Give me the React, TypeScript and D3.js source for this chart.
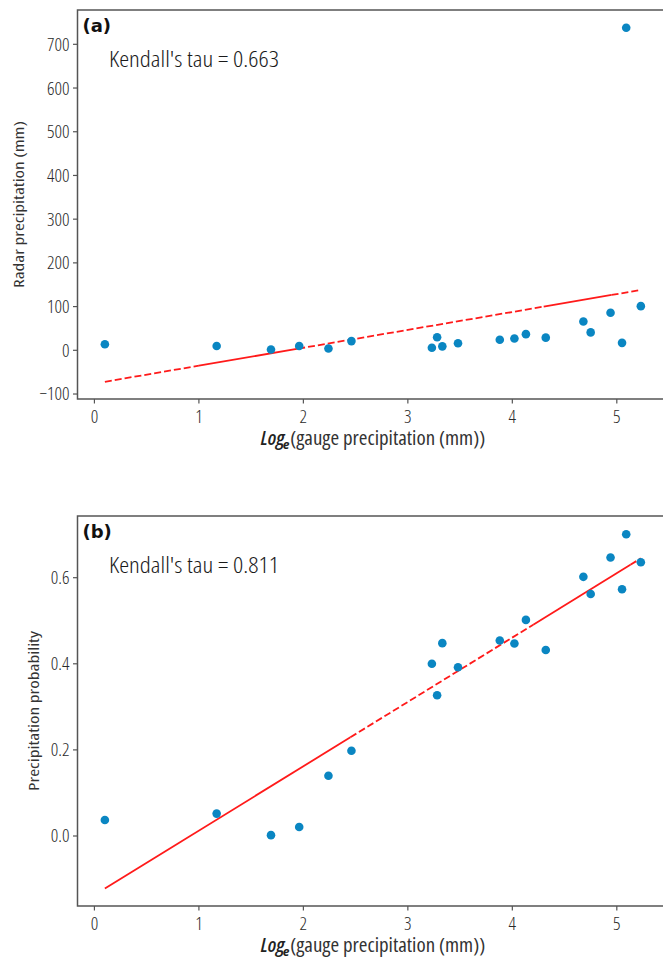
import React, { useEffect, useRef } from "react";
import * as d3 from "d3";

// log_e of gauge precipitation, same stations in both panels
const logGauge = [0.1, 1.17, 1.69, 1.96, 2.24, 2.46, 3.23, 3.28, 3.33, 3.48, 3.88, 4.02, 4.13, 4.32, 4.68, 4.75, 4.94, 5.05, 5.09, 5.23];
const radarPrecip = [14, 10, 2, 10, 4, 21, 6, 30, 9, 16, 24, 27, 37, 29, 66, 41, 86, 17, 738, 101];
const precipProb = [0.037, 0.052, 0.002, 0.021, 0.14, 0.198, 0.4, 0.327, 0.448, 0.392, 0.454, 0.447, 0.502, 0.432, 0.602, 0.562, 0.647, 0.573, 0.701, 0.636];

const xTicks = [0, 1, 2, 3, 4, 5];
const yTicksA = [-100, 0, 100, 200, 300, 400, 500, 600, 700];
const yTicksB = [0.0, 0.2, 0.4, 0.6];

// fitted lines: [intercept, slope]
const fitA = [-76.1, 40.94];
const fitB = [-0.137, 0.1495];
const tauA = "Kendall's tau = 0.663";
const tauB = "Kendall's tau = 0.811";

// the red line is partly solid, partly dashed in the original
const segA = [[0.1, 1.0, true], [1.0, 1.95, false], [1.95, 4.3, true], [4.3, 4.95, false], [4.95, 5.23, true]];
const segB = [[0.1, 2.45, false], [2.45, 4.2, true], [4.2, 5.13, false], [5.13, 5.23, true]];

const W = 663;
const H = 958;
const left = 77.5;
const right = 668; // right spine falls just off the picture
const condensed = "'Open Sans', sans-serif";

export default function App() {
  const ref = useRef(null);

  useEffect(() => {
    const svg = d3.select(ref.current);
    svg.selectAll("*").remove();

    const x = d3.scaleLinear().domain([-0.162, 5.49]).range([left, right]);

    const panel = (opts) => {
      const { top, bottom, yDomain, yTicks, fmt, ys, fit, seg, tag, tau, ylabel } = opts;
      const y = d3.scaleLinear().domain(yDomain).range([bottom, top]);
      const g = svg.append("g");

      // frame
      g.append("rect")
        .attr("x", left)
        .attr("y", top)
        .attr("width", right - left)
        .attr("height", bottom - top)
        .attr("fill", "none")
        .attr("stroke", "#555")
        .attr("stroke-width", 1.5);

      // y ticks
      const yt = g.selectAll(".yt").data(yTicks).enter().append("g").attr("class", "yt");
      yt.append("line")
        .attr("x1", left - 4.5)
        .attr("x2", left)
        .attr("y1", d => y(d))
        .attr("y2", d => y(d))
        .attr("stroke", "#555")
        .attr("stroke-width", 1.2);
      yt.append("text")
        .attr("x", left - 8)
        .attr("y", d => y(d))
        .attr("dy", "0.35em")
        .attr("text-anchor", "end")
        .style("font-family", condensed)
        .style("font-stretch", "75%")
        .style("font-weight", 300)
        .style("font-size", "18.5px")
        .attr("fill", "#2a2a2a")
        .text(d => fmt(d));

      // x ticks
      const xt = g.selectAll(".xt").data(xTicks).enter().append("g").attr("class", "xt");
      xt.append("line")
        .attr("x1", d => x(d))
        .attr("x2", d => x(d))
        .attr("y1", bottom)
        .attr("y2", bottom + 4.5)
        .attr("stroke", "#555")
        .attr("stroke-width", 1.2);
      xt.append("text")
        .attr("x", d => x(d))
        .attr("y", bottom + 17.5)
        .attr("dy", "0.35em")
        .attr("text-anchor", "middle")
        .style("font-family", condensed)
        .style("font-stretch", "75%")
        .style("font-weight", 300)
        .style("font-size", "18.5px")
        .attr("fill", "#2a2a2a")
        .text(d => d);

      // x label: Log_e(...)
      const cx = (left + right) / 2;
      const lx = cx - 112;
      const ly = bottom + 46;
      g.append("text")
        .attr("x", lx)
        .attr("y", ly)
        .style("font-family", condensed)
        .style("font-stretch", "75%")
        .style("font-style", "italic")
        .style("font-weight", 600)
        .style("font-size", "20px")
        .attr("fill", "#222")
        .text("Log");
      g.append("text")
        .attr("x", lx + 22)
        .attr("y", ly + 3.5)
        .style("font-family", condensed)
        .style("font-style", "italic")
        .style("font-weight", "bold")
        .style("font-size", "12px")
        .attr("fill", "#222")
        .text("e");
      g.append("text")
        .attr("x", lx + 29.5)
        .attr("y", ly)
        .style("font-family", condensed)
        .style("font-stretch", "75%")
        .style("font-size", "19px")
        .attr("fill", "#333")
        .attr("textLength", 195)
        .attr("lengthAdjust", "spacingAndGlyphs")
        .text("(gauge precipitation (mm))");

      // y label
      g.append("text")
        .attr("transform", `translate(${ylabel.x},${(top + bottom) / 2}) rotate(-90)`)
        .attr("text-anchor", "middle")
        .attr("dy", "0.35em")
        .style("font-family", condensed)
        .style("font-stretch", "87.5%")
        .style("font-size", "15px")
        .attr("fill", "#333")
        .attr("textLength", ylabel.len)
        .attr("lengthAdjust", "spacingAndGlyphs")
        .text(ylabel.text);

      // panel tag + tau
      g.append("text")
        .attr("x", 82.5)
        .attr("y", top + 22)
        .style("font-family", "'DejaVu Sans', sans-serif")
        .style("font-weight", "bold")
        .style("font-size", "18px")
        .attr("fill", "#111")
        .text(tag);
      g.append("text")
        .attr("x", 109)
        .attr("y", top + 57)
        .style("font-family", condensed)
        .style("font-stretch", "75%")
        .style("font-weight", 300)
        .style("font-size", "21.5px")
        .attr("fill", "#1a1a1a")
        .attr("textLength", 170)
        .attr("lengthAdjust", "spacingAndGlyphs")
        .text(tau);

      // regression line
      const f = v => fit[0] + fit[1] * v;
      g.selectAll(".fit")
        .data(seg)
        .enter()
        .append("line")
        .attr("class", "fit")
        .attr("x1", d => x(d[0]))
        .attr("y1", d => y(f(d[0])))
        .attr("x2", d => x(d[1]))
        .attr("y2", d => y(f(d[1])))
        .attr("stroke", "#ff1a1a")
        .attr("stroke-width", 1.8)
        .attr("stroke-dasharray", d => (d[2] ? "7,3" : null));

      // points
      g.selectAll(".pt")
        .data(logGauge)
        .enter()
        .append("circle")
        .attr("class", "pt")
        .attr("cx", d => x(d))
        .attr("cy", (d, i) => y(ys[i]))
        .attr("r", 4.3)
        .attr("fill", "#0a86c2");
    };

    panel({
      top: 10,
      bottom: 399,
      yDomain: [-111.4, 778.5],
      yTicks: yTicksA,
      fmt: d => (d < 0 ? "\u2212" + Math.abs(d) : String(d)),
      ys: radarPrecip,
      fit: fitA,
      seg: segA,
      tag: "(a)",
      tau: tauA,
      ylabel: { x: 19, len: 167, text: "Radar precipitation (mm)" }
    });

    panel({
      top: 516,
      bottom: 906,
      yDomain: [-0.1626, 0.7433],
      yTicks: yTicksB,
      fmt: d3.format(".1f"),
      ys: precipProb,
      fit: fitB,
      seg: segB,
      tag: "(b)",
      tau: tauB,
      ylabel: { x: 34, len: 160, text: "Precipitation probability" }
    });
  }, []);

  return (
    <svg
      ref={ref}
      width={W}
      height={H}
      style={{ position: "absolute", left: 0, top: 0, background: "white" }}
    />
  );
}
